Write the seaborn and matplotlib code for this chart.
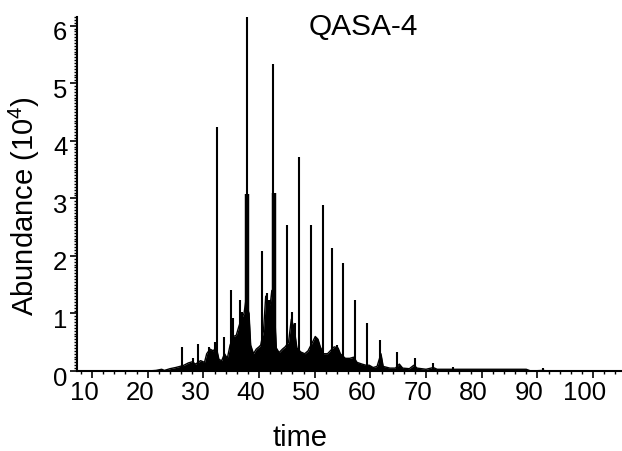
import matplotlib
matplotlib.use('Agg')
import matplotlib.pyplot as plt
import numpy as np
import pandas as pd
import seaborn as sns
from matplotlib.ticker import MultipleLocator, FixedLocator
from matplotlib.transforms import ScaledTranslation

# ---- data ----
peak_time = [26.2, 28.1, 29.0, 31.0, 32.1, 32.45, 33.7, 35.0, 35.3, 36.6, 37.0,
             37.85, 40.5, 41.4, 41.8, 42.5, 45.0, 45.9, 46.5, 47.2, 49.3, 50.2,
             51.5, 53.1, 54.0, 55.1, 57.2, 59.4, 61.7, 64.8, 68.0, 71.3, 74.8, 91.0]
peak_height = [0.42, 0.23, 0.47, 0.42, 0.50, 4.24, 0.59, 1.41, 0.92, 1.23, 1.02,
               6.15, 2.08, 1.35, 1.23, 5.33, 2.53, 1.02, 0.83, 3.72, 2.53, 0.59,
               2.88, 2.14, 0.45, 1.88, 1.23, 0.83, 0.54, 0.33, 0.23, 0.14, 0.07, 0.05]

broad_time = [37.75, 42.6]
broad_height = [3.07, 3.10]

bg_time = [7.3, 20.0, 21.5, 22.5, 23.0, 24.0, 25.0, 25.8, 26.5, 27.3, 28.0, 28.6,
           29.5, 30.2, 30.6, 31.2, 31.8, 32.3, 32.8, 33.3, 33.8, 34.3, 34.8, 35.4,
           35.9, 36.3, 36.8, 37.3, 37.6, 38.2, 38.5, 39.0, 39.5, 40.0, 40.3, 40.8,
           41.2, 41.6, 42.0, 42.3, 42.8, 43.1, 43.6, 44.2, 44.7, 45.3, 45.8, 46.3,
           46.8, 47.5, 48.2, 48.8, 49.6, 50.1, 50.6, 51.0, 51.6, 52.3, 52.8, 53.5,
           54.2, 54.6, 55.5, 56.3, 57.0, 57.6, 58.5, 59.2, 59.8, 60.5, 61.2, 61.9,
           62.3, 63.5, 64.5, 65.2, 65.8, 67.0, 67.8, 68.4, 70.0, 71.3, 72.0, 75.0,
           80.0, 88.0, 88.8, 91.0, 92.0, 105.2]
bg_level = [0.0, 0.0, 0.01, 0.03, 0.01, 0.04, 0.06, 0.08, 0.10, 0.14, 0.16, 0.12,
            0.18, 0.15, 0.30, 0.38, 0.35, 0.42, 0.20, 0.18, 0.30, 0.22, 0.45, 0.60,
            0.62, 0.75, 0.90, 1.00, 1.20, 1.00, 0.45, 0.30, 0.38, 0.42, 0.45, 0.70,
            1.30, 1.20, 1.15, 1.40, 1.00, 0.40, 0.32, 0.38, 0.42, 0.50, 0.90, 0.75,
            0.40, 0.33, 0.30, 0.35, 0.50, 0.60, 0.55, 0.42, 0.30, 0.30, 0.35, 0.42,
            0.40, 0.30, 0.22, 0.22, 0.24, 0.15, 0.12, 0.10, 0.10, 0.06, 0.08, 0.30,
            0.08, 0.05, 0.05, 0.12, 0.05, 0.04, 0.10, 0.05, 0.03, 0.06, 0.03, 0.03,
            0.03, 0.03, 0.0, 0.01, 0.0, 0.0]

x_ticks = [10, 20, 30, 40, 50, 60, 70, 80, 90, 100]
y_ticks = [0, 1, 2, 3, 4, 5, 6]
title_text = "QASA-4"
x_label = "time"
y_label = "Abundance (10$^4$)"

# ---- style ----
sns.set_theme(style='ticks')
plt.rcParams['font.family'] = ['Liberation Sans', 'DejaVu Sans']
plt.rcParams['mathtext.default'] = 'regular'

W, H = 622, 451
fig = plt.figure(figsize=(W / 100, H / 100), dpi=100)
ax_l, ax_r, ax_t, ax_b = 77, 622, 17, 371
ax = fig.add_axes([ax_l / W, 1 - ax_b / H, (ax_r - ax_l) / W, (ax_b - ax_t) / H])

bg = pd.DataFrame({'time': bg_time, 'abundance': bg_level})
ax.fill_between(bg['time'], 0, bg['abundance'], color='black', lw=0)
sns.lineplot(data=bg, x='time', y='abundance', color='black', lw=1.0,
             estimator=None, ax=ax)
ax.vlines(broad_time, 0, broad_height, color='black', lw=3.2)
ax.vlines(peak_time, 0, peak_height, color='black', lw=1.5)

ax.set_xlim(7.3, 105.2)
ax.set_ylim(0, 6.15)

sns.despine(ax=ax)
for s in ['left', 'bottom']:
    ax.spines[s].set_linewidth(1.5)
    ax.spines[s].set_color('black')

ax.xaxis.set_major_locator(FixedLocator(x_ticks))
ax.xaxis.set_minor_locator(MultipleLocator(2))
ax.yaxis.set_major_locator(FixedLocator(y_ticks))
ax.yaxis.set_minor_locator(MultipleLocator(0.05))
ax.set_xticklabels([str(v) for v in x_ticks])
ax.set_yticklabels([str(v) for v in y_ticks])

ax.tick_params(axis='both', which='major', direction='out', length=5, width=1.2,
               color='black', labelsize=18.5, labelcolor='black', pad=2)
ax.tick_params(axis='both', which='minor', direction='out', length=2.5, width=1.0,
               color='black')

for lab in ax.get_xticklabels():
    lab.set_transform(lab.get_transform() + ScaledTranslation(-8 / 100, 0, fig.dpi_scale_trans))
for lab in ax.get_yticklabels():
    lab.set_transform(lab.get_transform() + ScaledTranslation(0, -5 / 100, fig.dpi_scale_trans))

ax.set_xlabel('')
ax.set_ylabel('')
fig.text(300 / W, 1 - 446 / H, x_label, ha='center', va='baseline', fontsize=21, color='black')
fig.text(24 / W, 1 - 206 / H, y_label, ha='center', va='center', rotation=90,
         fontsize=21, color='black')
fig.text(363 / W, 1 - 35 / H, title_text, ha='center', va='baseline', fontsize=21.5,
         color='black')

fig.savefig('out.png', dpi=100)
